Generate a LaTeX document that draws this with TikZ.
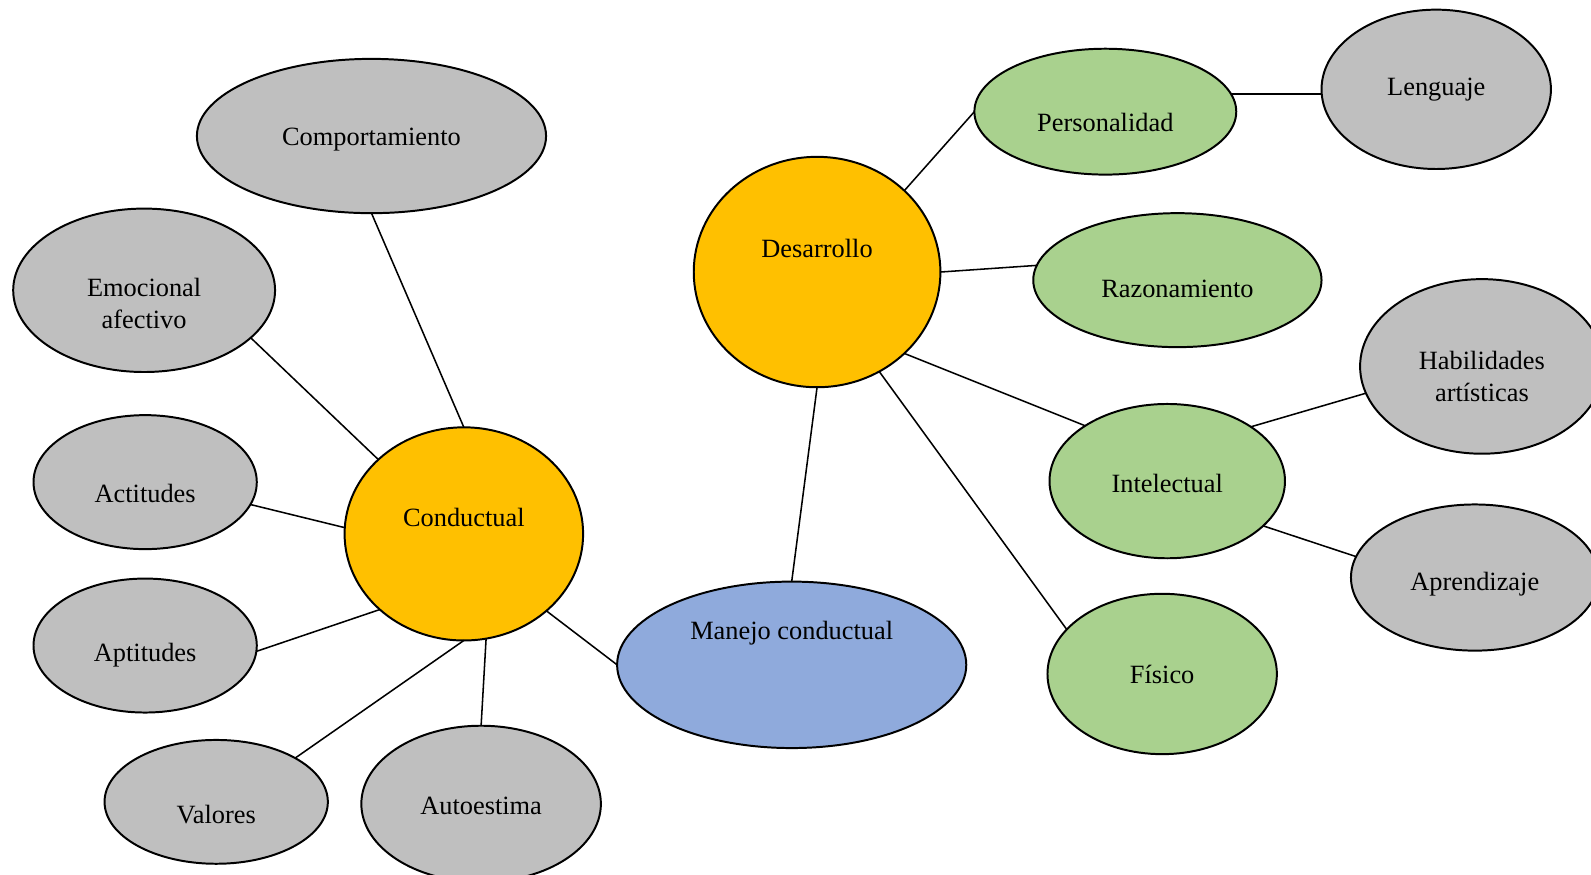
\documentclass[tikz,border=0pt]{standalone}
\usepackage{fontspec}
\setmainfont{Liberation Serif}
\usetikzlibrary{shapes,positioning}

\definecolor{gris}{HTML}{BFBFBF}
\definecolor{verde}{HTML}{A9D18E}
\definecolor{naranja}{HTML}{FFC000}
\definecolor{azul}{HTML}{8FAADC}

\tikzset{
  bub/.style 2 args={ellipse, draw=black, line width=0.9pt, inner sep=0pt, outer sep=0pt,
    minimum width=#1*0.01624cm, minimum height=#2*0.01624cm},
  gbub/.style 2 args={bub={#1}{#2}, fill=gris},
  vbub/.style 2 args={bub={#1}{#2}, fill=verde},
  link/.style={line width=0.7pt}
}

\begin{document}
\begin{tikzpicture}[x=0.01624cm, y=-0.01624cm, font=\fontsize{12}{14.5}\selectfont]
\useasboundingbox (0,0) rectangle (1567.5,862);

% Conductual
\node[bub={235}{210}, fill=naranja, label={[yshift=7.5pt]center:Conductual}] (con) at (457,526) {};
\node[gbub={344}{152}, label={[yshift=-1.5pt]center:Comportamiento}] (com) at (366,134) {};
\node[gbub={258}{161}, label={[yshift=-6pt, align=center]center:Emocional\\afectivo}] (emo) at (142,286) {};
\node[gbub={220}{132}, label={[yshift=-5pt]center:Actitudes}] (act) at (143,475) {};
\node[gbub={220}{132}, label={[yshift=-4.5pt]center:Aptitudes}] (apt) at (143,636) {};
\node[gbub={220}{122}, label={[yshift=-6pt]center:Valores}] (val) at (213,790) {};
\node[gbub={236}{154}, label={[yshift=-1pt]center:Autoestima}] (aut) at (474,792) {};

\draw[link] (com.south) -- (con.north);
\draw[link] (emo.-24) -- (con.139);
\draw[link] (act.-12) -- (con.177);
\draw[link] (apt.-3) -- (con.222);
\draw[link] (val.29) -- (con.south);
\draw[link] (aut.north) -- (con.282);

% Manejo conductual
\node[bub={344}{164}, fill=azul, label={[yshift=14.5pt]center:Manejo conductual}] (man) at (780,655) {};
\draw[link] (con.-43) -- (man.west);

% Desarrollo
\node[bub={243}{227}, fill=naranja, label={[yshift=10.5pt]center:Desarrollo}] (des) at (805,268) {};
\draw[link] (man.north) -- (des.south);

\node[vbub={258}{124}, label={[yshift=-5pt]center:Personalidad}] (per) at (1089,110) {};
\node[vbub={284}{132}, label={[yshift=-4pt]center:Razonamiento}] (raz) at (1160,276) {};
\node[vbub={232}{152}, label={[yshift=-1pt]center:Intelectual}] (int) at (1150,474) {};
\node[vbub={226}{158}, label={center:Físico}] (fis) at (1145,664) {};

\draw[link] (des.43) -- (per.west);
\draw[link] (des.east) -- (raz.174);
\draw[link] (des.-43) -- (int.146);
\draw[link] (des.-58) -- (fis.155);

\node[gbub={226}{157}, label={center:Lenguaje}] (len) at (1415,88) {};
\node[gbub={240}{172}, label={[yshift=-4.5pt, align=center]center:Habilidades\\artísticas}] (hab) at (1460,361) {};
\node[gbub={244}{144}, label={[yshift=-3pt]center:Aprendizaje}] (apr) at (1453,569) {};

\draw[link] (per.8) -- (per.8 -| len.west);
\draw[link] (int.33) -- (hab.193);
\draw[link] (int.-25) -- (apr.170);
\end{tikzpicture}
\end{document}
